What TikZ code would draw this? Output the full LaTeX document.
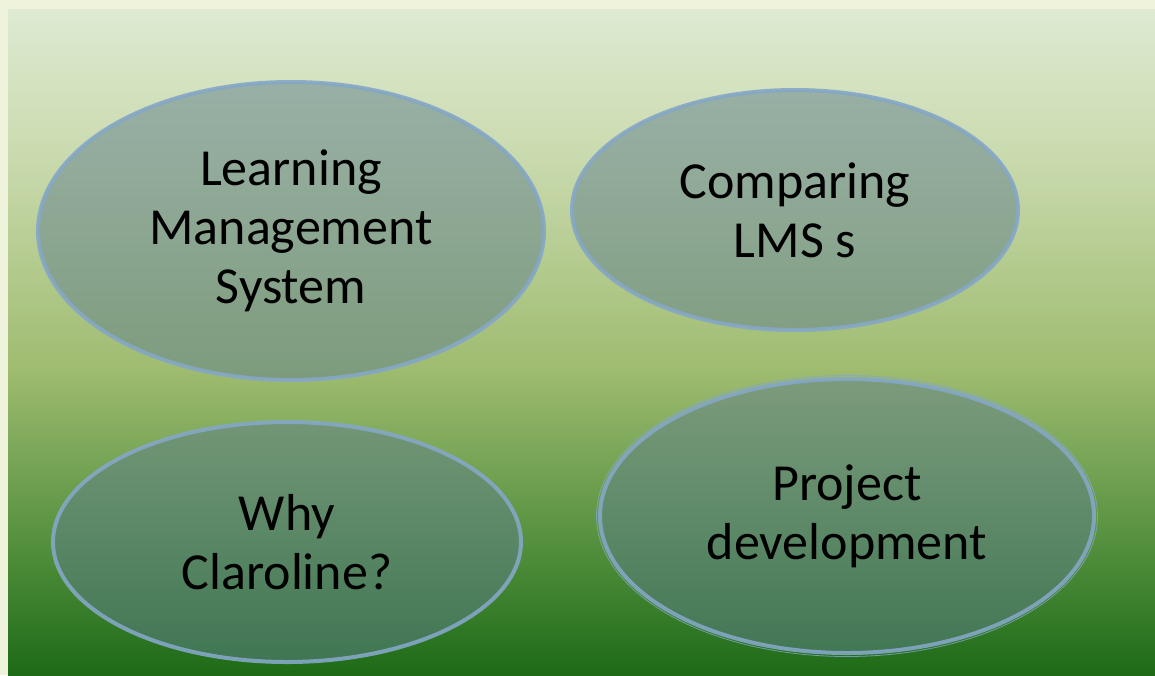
\documentclass[tikz,border=0pt]{standalone}
\usepackage{fontspec}
\setmainfont{Carlito}
\usetikzlibrary{shapes.geometric}

\definecolor{paper}{HTML}{F0F3DC}
\definecolor{bgtop}{HTML}{DEEAD2}
\definecolor{bgupper}{HTML}{CCDCB2}
\definecolor{bgmid}{HTML}{9FBC70}
\definecolor{bglower}{HTML}{4C8B38}
\definecolor{bgbottom}{HTML}{1D6A17}
\definecolor{bubblefill}{HTML}{5E7E8C}
\definecolor{bubbleline}{HTML}{85A7C6}

% stops kept inside 25bp--75bp, the part TikZ maps onto the path
\pgfdeclareverticalshading{bgshade}{100bp}{%
  color(0bp)=(bgbottom); color(25bp)=(bgbottom); color(33.5bp)=(bglower);
  color(48bp)=(bgmid); color(65bp)=(bgupper); color(75bp)=(bgtop);
  color(100bp)=(bgtop)}

\tikzset{
  bubble/.style={ellipse, inner sep=0pt, align=center,
    fill=bubblefill, fill opacity=0.5, text opacity=1,
    draw=bubbleline, draw opacity=0.9, line width=4pt,
    font=\fontsize{52}{59}\selectfont},
  rimline/.style={draw=bubbleline, draw opacity=0.8, line width=0.8pt}
}

\begin{document}
\begin{tikzpicture}[x=1pt,y=1pt,yscale=-1,xscale=1]
	\useasboundingbox (0,0) rectangle (1155,675);
	\fill[paper] (0,0) rectangle (1155,675);
	\fill[shading=bgshade] (8,9) rectangle (1155,675);
	% topics
	\node[bubble, minimum width=506pt, minimum height=298pt] (lms) at (291,231) {Learning\\Management\\System};
	\node[bubble, minimum width=446pt, minimum height=240pt] (compare) at (795,210) {Comparing\\LMS s};
	\node[bubble, minimum width=468pt, minimum height=240pt] (why) at (287,542) {Why\\Claroline?};
	\node[bubble, minimum width=494pt, minimum height=274pt] (project) at (847,516) {Project\\development};
	\draw[rimline] (project.center) ellipse (250.5 and 140.5);
\end{tikzpicture}
\end{document}
